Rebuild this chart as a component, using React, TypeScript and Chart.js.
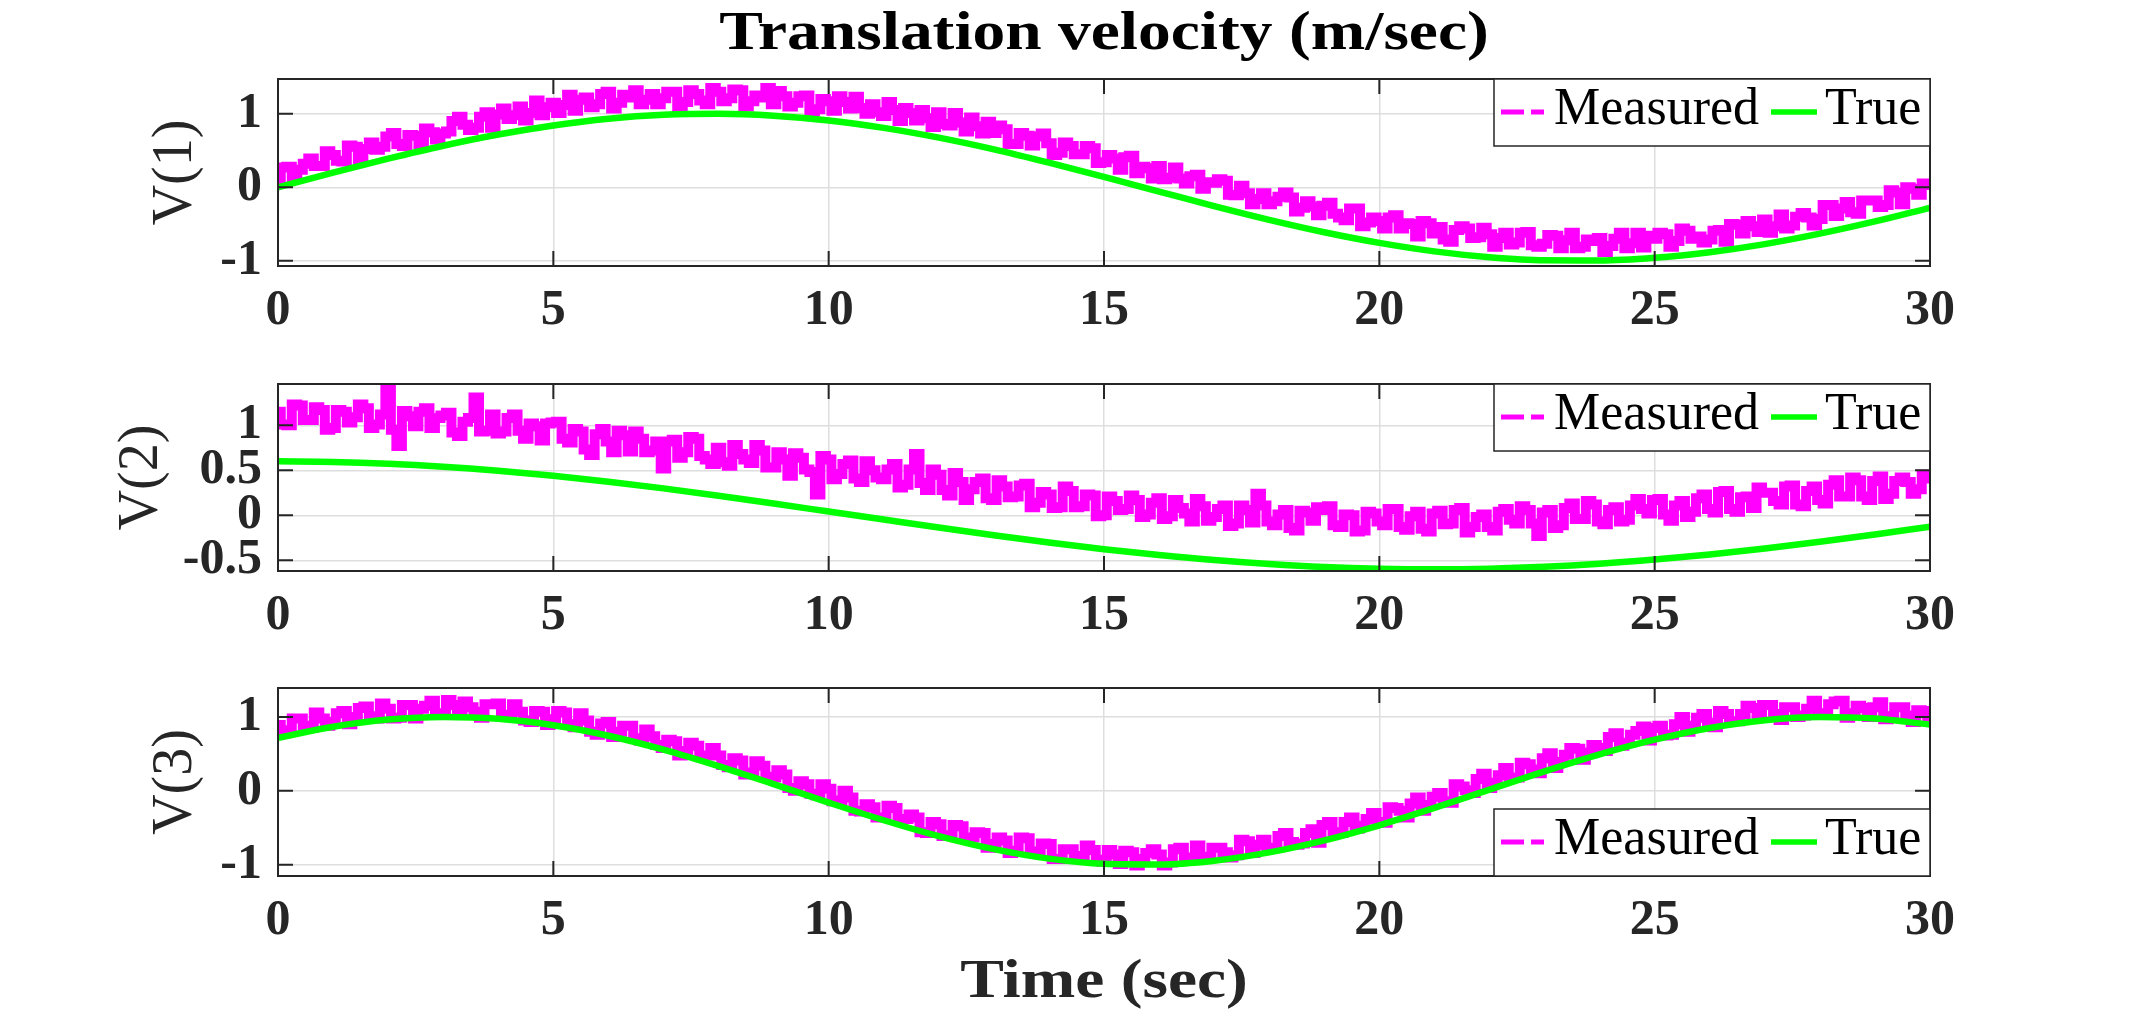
import React, { useEffect, useRef } from 'react';
import { Chart, registerables } from 'chart.js';

Chart.register(...registerables);

// ---- data -------------------------------------------------------------
const X_TICKS = [0, 5, 10, 15, 20, 25, 30];
const MEASURED_STEP = 0.1; // seconds between measured samples
const TRUE_STEP = 1; // seconds between reference samples

// one row = one second of samples
const V1_MEASURED = [
  0.10, 0.27, 0.28, 0.14, 0.24, 0.32, 0.39, 0.29, 0.29, 0.49,
  0.44, 0.36, 0.35, 0.57, 0.55, 0.38, 0.52, 0.61, 0.51, 0.55,
  0.69, 0.74, 0.59, 0.56, 0.71, 0.70, 0.59, 0.80, 0.75, 0.65,
  0.73, 0.76, 0.90, 0.96, 0.85, 0.78, 0.81, 0.96, 1.02, 0.81,
  0.99, 1.07, 0.93, 0.98, 1.10, 0.91, 1.01, 1.18, 0.98, 1.09,
  1.15, 1.01, 1.12, 1.26, 1.04, 1.19, 1.22, 1.09, 1.13, 1.27,
  1.30, 1.07, 1.15, 1.26, 1.22, 1.32, 1.13, 1.19, 1.27, 1.13,
  1.21, 1.30, 1.30, 1.09, 1.16, 1.32, 1.27, 1.18, 1.13, 1.35,
  1.30, 1.17, 1.21, 1.33, 1.32, 1.10, 1.17, 1.25, 1.22, 1.35,
  1.13, 1.31, 1.24, 1.10, 1.15, 1.24, 1.25, 1.03, 1.06, 1.20,
  1.17, 1.04, 1.24, 1.16, 1.07, 1.23, 1.08, 1.00, 1.13, 1.02,
  0.97, 1.16, 1.05, 0.90, 1.08, 1.01, 0.91, 1.05, 0.94, 0.82,
  1.02, 0.86, 0.84, 1.01, 0.88, 0.76, 0.95, 0.83, 0.73, 0.89,
  0.74, 0.84, 0.79, 0.59, 0.59, 0.74, 0.70, 0.57, 0.69, 0.73,
  0.60, 0.44, 0.47, 0.61, 0.56, 0.45, 0.45, 0.56, 0.53, 0.33,
  0.34, 0.44, 0.39, 0.24, 0.41, 0.43, 0.19, 0.28, 0.26, 0.12,
  0.29, 0.11, 0.13, 0.27, 0.12, 0.05, 0.15, 0.17, -0.02, 0.07,
  0.06, 0.11, 0.09, -0.10, -0.11, 0.02, -0.08, -0.23, -0.16, -0.08,
  -0.23, -0.19, -0.13, -0.07, -0.14, -0.33, -0.28, -0.19, -0.26, -0.38,
  -0.25, -0.21, -0.36, -0.41, -0.45, -0.29, -0.29, -0.53, -0.48, -0.41,
  -0.46, -0.56, -0.41, -0.38, -0.56, -0.49, -0.50, -0.67, -0.46, -0.49,
  -0.63, -0.54, -0.71, -0.74, -0.58, -0.53, -0.56, -0.69, -0.68, -0.55,
  -0.64, -0.81, -0.69, -0.62, -0.78, -0.75, -0.62, -0.61, -0.79, -0.81,
  -0.77, -0.65, -0.66, -0.83, -0.72, -0.62, -0.83, -0.81, -0.71, -0.73,
  -0.69, -0.88, -0.80, -0.70, -0.62, -0.83, -0.76, -0.62, -0.82, -0.66,
  -0.70, -0.62, -0.64, -0.81, -0.73, -0.56, -0.59, -0.70, -0.67, -0.75,
  -0.71, -0.59, -0.58, -0.74, -0.50, -0.51, -0.63, -0.46, -0.53, -0.61,
  -0.44, -0.62, -0.53, -0.37, -0.56, -0.52, -0.40, -0.35, -0.41, -0.52,
  -0.43, -0.24, -0.24, -0.39, -0.29, -0.20, -0.34, -0.36, -0.18, -0.18,
  -0.18, -0.27, -0.24, -0.04, -0.07, -0.23, 0.00, -0.02, -0.10, 0.05,
  0.03,
];
const V1_TRUE = [
  0, 0.199, 0.389, 0.565, 0.717, 0.841, 0.932, 0.985, 1.0, 0.974, 0.909,
  0.808, 0.675, 0.516, 0.335, 0.141, -0.058, -0.256, -0.443, -0.612, -0.757,
  -0.872, -0.952, -0.994, -0.996, -0.959, -0.883, -0.773, -0.631, -0.465, -0.279,
];

const V2_MEASURED = [
  1.15, 1.01, 1.00, 1.23, 1.22, 1.06, 1.06, 1.20, 1.17, 0.95,
  0.97, 1.17, 1.15, 1.03, 1.09, 1.23, 1.19, 0.97, 1.01, 1.12,
  1.42, 0.95, 0.77, 1.16, 1.10, 0.99, 1.15, 1.19, 0.97, 1.08,
  1.11, 1.14, 0.92, 0.88, 1.04, 1.08, 1.31, 0.93, 0.94, 1.12,
  0.91, 0.93, 1.08, 1.12, 0.94, 0.85, 1.02, 0.99, 0.83, 1.02,
  1.03, 1.04, 0.85, 0.81, 0.96, 0.93, 0.73, 0.67, 0.90, 0.96,
  0.82, 0.70, 0.94, 0.89, 0.71, 0.93, 0.85, 0.70, 0.72, 0.82,
  0.52, 0.82, 0.84, 0.64, 0.70, 0.87, 0.85, 0.66, 0.62, 0.57,
  0.75, 0.59, 0.55, 0.78, 0.68, 0.62, 0.58, 0.78, 0.72, 0.53,
  0.53, 0.70, 0.62, 0.44, 0.69, 0.64, 0.51, 0.48, 0.23, 0.66,
  0.62, 0.40, 0.46, 0.57, 0.61, 0.41, 0.37, 0.60, 0.50, 0.42,
  0.40, 0.51, 0.57, 0.31, 0.34, 0.51, 0.68, 0.36, 0.28, 0.51,
  0.45, 0.28, 0.22, 0.47, 0.37, 0.17, 0.29, 0.37, 0.41, 0.19,
  0.17, 0.39, 0.32, 0.20, 0.21, 0.33, 0.35, 0.09, 0.14, 0.26,
  0.23, 0.08, 0.09, 0.32, 0.27, 0.09, 0.10, 0.23, 0.22, -0.01,
  0.00, 0.21, 0.16, 0.06, 0.07, 0.22, 0.17, -0.02, 0.01, 0.14,
  0.19, -0.04, -0.01, 0.17, 0.08, 0.02, -0.07, 0.18, 0.10, -0.06,
  -0.02, 0.07, 0.11, -0.12, -0.09, 0.11, 0.06, -0.08, 0.24, 0.11,
  -0.07, -0.11, 0.01, 0.06, -0.14, -0.17, 0.05, 0.03, -0.06, 0.09,
  0.06, 0.10, -0.11, -0.13, 0.01, 0.00, -0.18, -0.17, 0.04, 0.02,
  -0.07, -0.11, 0.07, 0.07, -0.13, -0.16, -0.01, 0.04, -0.15, -0.18,
  0.02, 0.05, -0.10, -0.09, 0.06, 0.08, -0.19, -0.13, -0.02, 0.01,
  -0.13, -0.17, 0.04, 0.07, -0.05, -0.09, 0.10, 0.06, -0.09, -0.23,
  0.03, 0.06, -0.14, -0.11, 0.08, 0.13, -0.04, -0.04, 0.16, 0.12,
  -0.07, -0.10, 0.06, 0.09, -0.07, -0.05, 0.11, 0.18, 0.07, 0.02,
  0.17, 0.18, 0.01, -0.06, 0.11, 0.16, -0.02, 0.04, 0.19, 0.23,
  0.07, 0.03, 0.26, 0.27, 0.07, 0.04, 0.20, 0.21, 0.08, 0.31,
  0.25, 0.25, 0.16, 0.12, 0.32, 0.33, 0.12, 0.10, 0.27, 0.32,
  0.17, 0.13, 0.34, 0.39, 0.21, 0.21, 0.42, 0.39, 0.21, 0.17,
  0.38, 0.43, 0.18, 0.24, 0.38, 0.42, 0.37, 0.24, 0.29, 0.45,
  0.41,
];
const V2_TRUE = [
  0.6, 0.593, 0.573, 0.54, 0.495, 0.439, 0.373, 0.299, 0.217, 0.131, 0.042,
  -0.047, -0.136, -0.222, -0.303, -0.377, -0.442, -0.498, -0.542, -0.575, -0.594,
  -0.6, -0.593, -0.572, -0.538, -0.492, -0.436, -0.369, -0.294, -0.213, -0.126,
];

const V3_MEASURED = [
  0.89, 0.78, 0.82, 0.98, 0.98, 0.88, 0.85, 1.06, 0.98, 0.88,
  0.93, 1.05, 1.08, 0.90, 1.00, 1.12, 1.14, 1.01, 0.98, 1.18,
  1.11, 0.98, 0.99, 1.16, 1.16, 0.98, 1.11, 1.15, 1.22, 1.05,
  1.05, 1.23, 1.16, 1.03, 1.21, 1.13, 1.07, 0.99, 1.17, 1.17,
  1.18, 1.03, 1.00, 1.17, 1.07, 0.95, 0.93, 1.08, 1.07, 0.89,
  0.97, 1.08, 1.06, 0.90, 0.86, 1.05, 0.95, 0.80, 0.76, 0.91,
  0.93, 0.73, 0.80, 0.88, 0.88, 0.71, 0.68, 0.83, 0.74, 0.62,
  0.58, 0.69, 0.67, 0.48, 0.54, 0.65, 0.61, 0.48, 0.48, 0.58,
  0.48, 0.35, 0.32, 0.44, 0.41, 0.22, 0.25, 0.40, 0.34, 0.19,
  0.18, 0.28, 0.22, 0.04, 0.00, 0.13, 0.09, -0.04, -0.06, 0.09,
  0.03, -0.14, -0.13, 0.00, -0.09, -0.27, -0.28, -0.18, -0.22, -0.36,
  -0.36, -0.20, -0.23, -0.40, -0.38, -0.32, -0.36, -0.56, -0.57, -0.42,
  -0.45, -0.61, -0.60, -0.46, -0.48, -0.63, -0.63, -0.56, -0.57, -0.77,
  -0.72, -0.63, -0.67, -0.84, -0.81, -0.63, -0.64, -0.82, -0.83, -0.71,
  -0.72, -0.92, -0.92, -0.79, -0.79, -0.92, -0.88, -0.74, -0.80, -0.93,
  -0.96, -0.80, -0.86, -0.99, -0.81, -0.83, -1.01, -0.92, -0.84, -0.79,
  -0.86, -1.01, -0.97, -0.79, -0.77, -0.94, -0.90, -0.74, -0.91, -0.89,
  -0.77, -0.77, -0.83, -0.90, -0.87, -0.66, -0.68, -0.84, -0.73, -0.66,
  -0.77, -0.77, -0.61, -0.57, -0.69, -0.73, -0.71, -0.57, -0.52, -0.70,
  -0.46, -0.42, -0.56, -0.57, -0.42, -0.36, -0.51, -0.47, -0.38, -0.30,
  -0.42, -0.43, -0.22, -0.23, -0.27, -0.36, -0.17, -0.09, -0.27, -0.19,
  -0.08, -0.03, -0.14, -0.16, 0.09, 0.06, 0.01, -0.03, 0.16, 0.23,
  0.04, 0.11, 0.21, 0.31, 0.18, 0.18, 0.38, 0.36, 0.29, 0.24,
  0.44, 0.51, 0.31, 0.39, 0.49, 0.58, 0.57, 0.42, 0.52, 0.62,
  0.58, 0.54, 0.73, 0.78, 0.61, 0.65, 0.76, 0.81, 0.87, 0.68,
  0.85, 0.88, 0.75, 0.76, 0.90, 1.00, 0.80, 0.88, 0.99, 1.04,
  0.92, 0.86, 1.08, 1.04, 0.94, 0.94, 1.04, 1.15, 1.12, 1.00,
  1.16, 1.16, 1.04, 0.96, 1.13, 1.13, 1.00, 1.02, 1.11, 1.22,
  1.04, 1.05, 1.17, 1.21, 1.22, 0.99, 1.05, 1.15, 1.12, 1.00,
  1.13, 1.20, 0.97, 1.01, 1.13, 1.13, 1.02, 0.93, 1.09, 1.08,
  0.98,
];
const V3_TRUE = [
  0.717, 0.867, 0.964, 1.0, 0.974, 0.887, 0.746, 0.558, 0.335, 0.092, -0.158,
  -0.397, -0.612, -0.788, -0.916, -0.987, -0.996, -0.944, -0.832, -0.669, -0.465,
  -0.231, 0.017, 0.264, 0.494, 0.692, 0.851, 0.956, 0.999, 0.978, 0.897,
];

const V1_TICKS = [-1, 0, 1];
const V2_TICKS = [-0.5, 0, 0.5, 1];
const V3_TICKS = [-1, 0, 1];

const V1_RANGE = [-1.071, 1.473];
const V2_RANGE = [-0.619, 1.459];
const V3_RANGE = [-1.151, 1.391];

const SERIES_LABELS = ['Measured', 'True'];
const TITLE = 'Translation velocity (m/sec)';
const X_LABEL = 'Time (sec)';
const Y_LABELS = ['V(1)', 'V(2)', 'V(3)'];

// ---- layout & style ---------------------------------------------------
const W = 2136;
const H = 1017;
const PLOT_LEFT = 278;
const PLOT_RIGHT = 1930;
const PANEL_TOP = [79, 384, 688];
const PANEL_BOTTOM = [266, 571, 876];
const Y_LABEL_X = [176, 142, 176];
const LEGEND_SIDE = ['top', 'top', 'bottom'];

const MAGENTA = '#ff00ff';
const GREEN = '#00ff00';
const AXIS_COLOR = '#262626';
const GRID_COLOR = '#dedede';
const FONT_FAMILY = "'Liberation Serif', 'Times New Roman', serif";
const TICK_LEN = 15;

const toPoints = (vals: number[], step: number) =>
  vals.map((y, i) => ({ x: +(i * step).toFixed(3), y }));

const fmt = (v: number) => String(v);

// Frame, inner tick marks, legend box and text labels for a panel.
const panelDecor = {
  id: 'panelDecor',
  afterDatasetsDraw(chart: any, _args: any, opts: any) {
    const { ctx, chartArea: a, scales } = chart;
    ctx.save();

    // axes box and inward ticks on all four sides
    ctx.strokeStyle = AXIS_COLOR;
    ctx.lineWidth = 2;
    ctx.strokeRect(a.left, a.top, a.right - a.left, a.bottom - a.top);
    ctx.beginPath();
    for (const t of scales.x.ticks) {
      const px = scales.x.getPixelForValue(t.value);
      ctx.moveTo(px, a.bottom);
      ctx.lineTo(px, a.bottom - TICK_LEN);
      ctx.moveTo(px, a.top);
      ctx.lineTo(px, a.top + TICK_LEN);
    }
    for (const t of scales.y.ticks) {
      const py = scales.y.getPixelForValue(t.value);
      ctx.moveTo(a.left, py);
      ctx.lineTo(a.left + TICK_LEN, py);
      ctx.moveTo(a.right, py);
      ctx.lineTo(a.right - TICK_LEN, py);
    }
    ctx.stroke();

    // legend
    const lw = 436;
    const lh = 67;
    const L = a.right - lw;
    const T = opts.legendSide === 'bottom' ? a.bottom - lh : a.top;
    ctx.fillStyle = '#ffffff';
    ctx.fillRect(L, T, lw, lh);
    ctx.lineWidth = 1.5;
    ctx.strokeStyle = AXIS_COLOR;
    ctx.strokeRect(L, T, lw, lh);
    const ly = T + 33;
    ctx.lineWidth = 5;
    ctx.strokeStyle = MAGENTA;
    ctx.beginPath();
    ctx.moveTo(L + 7, ly);
    ctx.lineTo(L + 30, ly);
    ctx.moveTo(L + 37, ly);
    ctx.lineTo(L + 50, ly);
    ctx.stroke();
    ctx.lineWidth = 5.5;
    ctx.strokeStyle = GREEN;
    ctx.beginPath();
    ctx.moveTo(L + 277, ly);
    ctx.lineTo(L + 323, ly);
    ctx.stroke();
    ctx.fillStyle = '#000000';
    ctx.font = `52px ${FONT_FAMILY}`;
    ctx.textAlign = 'left';
    ctx.textBaseline = 'alphabetic';
    ctx.fillText(SERIES_LABELS[0], L + 60, T + 45);
    ctx.fillText(SERIES_LABELS[1], L + 331, T + 45);

    // y label (rotated)
    ctx.save();
    ctx.translate(opts.yLabelX, (a.top + a.bottom) / 2);
    ctx.rotate(-Math.PI / 2);
    ctx.font = `56px ${FONT_FAMILY}`;
    ctx.fillStyle = AXIS_COLOR;
    ctx.textAlign = 'center';
    ctx.textBaseline = 'middle';
    ctx.fillText(opts.yLabel, 0, 0);
    ctx.restore();

    const cx = (a.left + a.right) / 2;
    if (opts.title) {
      ctx.save();
      ctx.translate(cx, 49);
      ctx.scale(1.19, 1);
      ctx.font = `bold 55px ${FONT_FAMILY}`;
      ctx.fillStyle = '#000000';
      ctx.textAlign = 'center';
      ctx.textBaseline = 'alphabetic';
      ctx.fillText(opts.title, 0, 0);
      ctx.restore();
    }
    if (opts.xLabel) {
      ctx.save();
      ctx.translate(cx, 997);
      ctx.scale(1.19, 1);
      ctx.font = `bold 55px ${FONT_FAMILY}`;
      ctx.fillStyle = AXIS_COLOR;
      ctx.textAlign = 'center';
      ctx.textBaseline = 'alphabetic';
      ctx.fillText(opts.xLabel, 0, 0);
      ctx.restore();
    }
    ctx.restore();
  },
};

const tickFont = { family: FONT_FAMILY, size: 50, weight: 'bold' as const, lineHeight: 1.2 };

function makeConfig(i: number, measured: number[], truth: number[], yTicks: number[], range: number[]): any {
  return {
    type: 'line',
    data: {
      datasets: [
        {
          label: SERIES_LABELS[0],
          data: toPoints(measured, MEASURED_STEP),
          borderColor: MAGENTA,
          backgroundColor: MAGENTA,
          borderWidth: 10,
          borderJoinStyle: 'miter',
          borderCapStyle: 'butt',
          pointRadius: 0,
          stepped: 'middle',
          fill: false,
          order: 1,
        },
        {
          label: SERIES_LABELS[1],
          data: toPoints(truth, TRUE_STEP),
          borderColor: GREEN,
          backgroundColor: GREEN,
          borderWidth: 6.5,
          pointRadius: 0,
          cubicInterpolationMode: 'monotone',
          fill: false,
          order: 0,
        },
      ],
    },
    options: {
      animation: false,
      responsive: false,
      devicePixelRatio: 1,
      events: [],
      layout: { padding: { top: PANEL_TOP[i], right: W - PLOT_RIGHT, left: 0, bottom: 0 } },
      scales: {
        x: {
          type: 'linear',
          min: X_TICKS[0],
          max: X_TICKS[X_TICKS.length - 1],
          afterBuildTicks: (s: any) => {
            s.ticks = X_TICKS.map((v) => ({ value: v }));
          },
          afterFit: (s: any) => {
            s.height = H - PANEL_BOTTOM[i];
          },
          grid: { color: GRID_COLOR, lineWidth: 1.5, drawTicks: false },
          border: { display: false },
          ticks: {
            font: tickFont,
            color: AXIS_COLOR,
            padding: 15,
            maxRotation: 0,
            autoSkip: false,
            callback: (v: number) => fmt(v),
          },
        },
        y: {
          type: 'linear',
          min: range[0],
          max: range[1],
          afterBuildTicks: (s: any) => {
            s.ticks = yTicks.map((v) => ({ value: v }));
          },
          afterFit: (s: any) => {
            s.width = PLOT_LEFT;
          },
          grid: { color: GRID_COLOR, lineWidth: 1.5, drawTicks: false },
          border: { display: false },
          ticks: {
            font: tickFont,
            color: AXIS_COLOR,
            padding: 16,
            autoSkip: false,
            callback: (v: number) => fmt(v),
          },
        },
      },
      plugins: {
        legend: { display: false },
        tooltip: { enabled: false },
        panelDecor: {
          yLabel: Y_LABELS[i],
          yLabelX: Y_LABEL_X[i],
          legendSide: LEGEND_SIDE[i],
          title: i === 0 ? TITLE : null,
          xLabel: i === 2 ? X_LABEL : null,
        },
      },
    },
    plugins: [panelDecor],
  };
}

export default function App() {
  const ref1 = useRef<HTMLCanvasElement | null>(null);
  const ref2 = useRef<HTMLCanvasElement | null>(null);
  const ref3 = useRef<HTMLCanvasElement | null>(null);

  useEffect(() => {
    const charts = [
      new Chart(ref1.current as HTMLCanvasElement, makeConfig(0, V1_MEASURED, V1_TRUE, V1_TICKS, V1_RANGE)),
      new Chart(ref2.current as HTMLCanvasElement, makeConfig(1, V2_MEASURED, V2_TRUE, V2_TICKS, V2_RANGE)),
      new Chart(ref3.current as HTMLCanvasElement, makeConfig(2, V3_MEASURED, V3_TRUE, V3_TICKS, V3_RANGE)),
    ];
    return () => charts.forEach((c) => c.destroy());
  }, []);

  const canvasStyle: React.CSSProperties = {
    position: 'absolute',
    left: 0,
    top: 0,
    width: W,
    height: H,
  };

  return (
    <div
      style={{
        position: 'fixed',
        left: 0,
        top: 0,
        width: W,
        height: H,
        background: '#ffffff',
        overflow: 'hidden',
      }}
    >
      <canvas ref={ref1} width={W} height={H} style={canvasStyle} />
      <canvas ref={ref2} width={W} height={H} style={canvasStyle} />
      <canvas ref={ref3} width={W} height={H} style={canvasStyle} />
    </div>
  );
}
